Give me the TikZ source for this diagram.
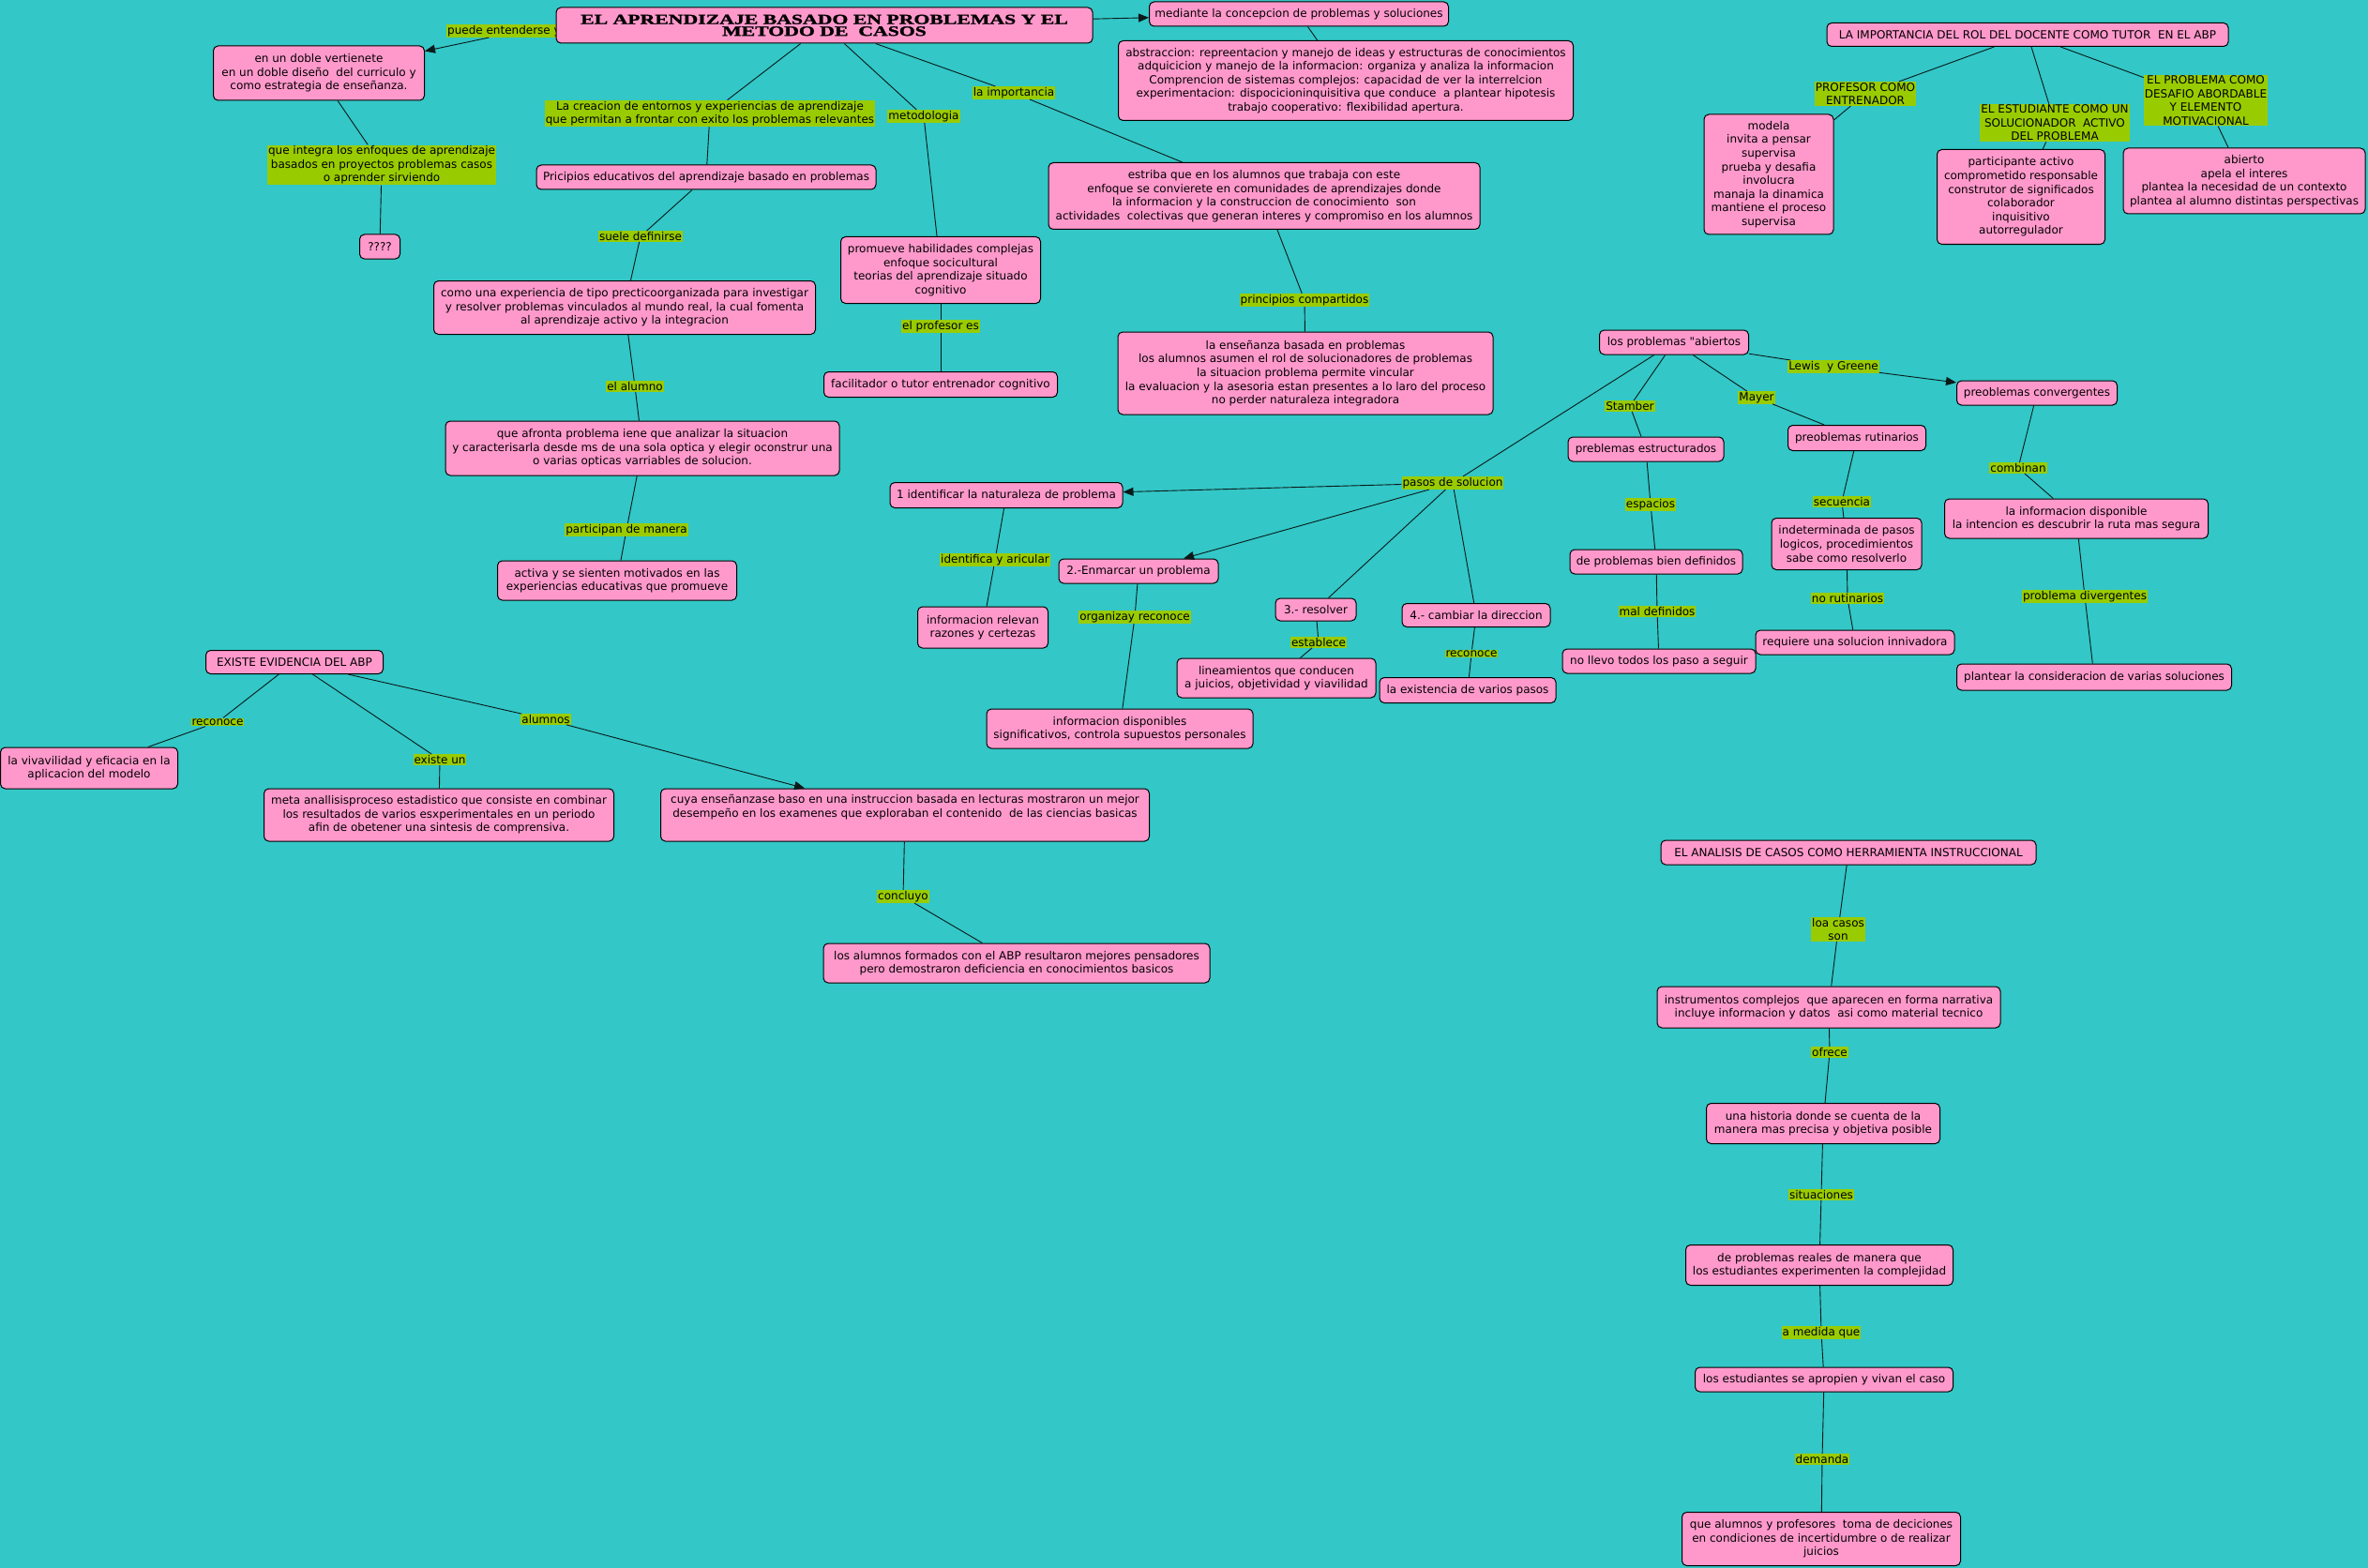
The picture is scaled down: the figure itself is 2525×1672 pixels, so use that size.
\documentclass[tikz,border=0pt]{standalone}
\usepackage{fontspec}
\newfontfamily\cmfont[Ligatures=TeXOff]{DejaVu Sans}
\newfontfamily\ttlfont[FakeStretch=1.45,FakeBold=1.6]{Liberation Serif}
\usetikzlibrary{arrows.meta}
\definecolor{bgc}{RGB}{51,199,199}
\definecolor{pinkc}{RGB}{255,153,204}
\definecolor{greenc}{RGB}{153,204,0}
\definecolor{linec}{RGB}{10,25,25}
\begin{document}
\begin{tikzpicture}[x=1pt,y=-1pt,
  cn/.style={draw=black, fill=pinkc, rounded corners=5pt, line width=1pt, align=center, inner sep=2pt, text=black, font={\cmfont\fontsize{12}{14.6}\selectfont}},
  cbox/.style 2 args={cn, minimum width=#1pt, minimum height=#2pt},
  lb/.style={fill=greenc, align=center, inner sep=1pt, text=black, font={\cmfont\fontsize{12}{14.6}\selectfont}},
  conn/.style={draw=linec, line width=0.9pt},
  arr/.style={conn, -{Triangle[length=11pt,width=9pt]}}]
\fill[bgc] (0,0) rectangle (2525,1672);
\useasboundingbox (0,0) rectangle (2525,1672);

% ---- main map ----
\node[lb, anchor=west] (lpuede) at (476,33) {puede entenderse y};
\node[cbox={572}{38}, font={\ttlfont\bfseries\fontsize{15}{12.5}\selectfont}] (title) at (879,27) {EL APRENDIZAJE BASADO EN PROBLEMAS Y EL\\METODO DE \ CASOS};
\node[cbox={319}{26}] (mediante) at (1385,15) {mediante la concepcion de problemas y soluciones};
\node[cbox={485}{85}] (abstr) at (1435,86) {abstraccion: repreentacion y manejo de ideas y estructuras de conocimientos\\adquicicion y manejo de la informacion: organiza y analiza la informacion\\Comprencion de sistemas complejos: capacidad de ver la interrelcion\\experimentacion: dispocicioninquisitiva que conduce \ a plantear hipotesis\\trabajo cooperativo: flexibilidad apertura.};
\node[cbox={225}{58}] (doble) at (340,78) {en un doble vertienete\\en un doble diseño \ del curriculo y\\como estrategia de enseñanza.};
\node[lb] (lintegra) at (407,176) {que integra los enfoques de aprendizaje\\basados en proyectos problemas casos\\o aprender sirviendo};
\node[cbox={43}{26}] (qqq) at (405,263) {????};
\node[lb] (lcreacion) at (757,121) {La creacion de entornos y experiencias de aprendizaje\\que permitan a frontar con exito los problemas relevantes};
\node[cbox={362}{26}] (pricipios) at (753,189) {Pricipios educativos del aprendizaje basado en problemas};
\node[lb] (lsuele) at (683,252) {suele definirse};
\node[cbox={407}{57}] (como) at (666,328) {como una experiencia de tipo precticoorganizada para investigar\\y resolver problemas vinculados al mundo real, la cual fomenta\\al aprendizaje activo y la integracion};
\node[lb] (lalumno) at (677,412) {el alumno};
\node[cbox={420}{58}] (afronta) at (685,478) {que afronta problema iene que analizar la situacion\\y caracterisarla desde ms de una sola optica y elegir oconstrur una\\o varias opticas varriables de solucion.};
\node[lb] (lparticipan) at (668,565) {participan de manera};
\node[cbox={255}{42}] (activa) at (658,619) {activa y se sienten motivados en las\\experiencias educativas que promueve};
\node[lb] (lmetod) at (985,124) {metodologia};
\node[cbox={213}{71}] (promueve) at (1003,288) {promueve habilidades complejas\\enfoque socicultural\\teorias del aprendizaje situado\\cognitivo};
\node[lb] (lprofesor) at (1003,348) {el profesor es};
\node[cbox={249}{27}] (facilitador) at (1003,410) {facilitador o tutor entrenador cognitivo};
\node[lb] (limport) at (1081,99) {la importancia};
\node[cbox={460}{71}] (estriba) at (1348,209) {estriba que en los alumnos que trabaja con este\\enfoque se convierete en comunidades de aprendizajes donde\\la informacion y la construccion de conocimiento \ son\\actividades \ colectivas que generan interes y compromiso en los alumnos};
\node[lb] (lprincipios) at (1391,320) {principios compartidos};
\node[cbox={400}{88}] (ensenanza) at (1392,398) {la enseñanza basada en problemas\\los alumnos asumen el rol de solucionadores de problemas\\la situacion problema permite vincular\\la evaluacion y la asesoria estan presentes a lo laro del proceso\\no perder naturaleza integradora};

% ---- rol del docente ----
\node[cbox={428}{25}] (rol) at (2162,37) {LA IMPORTANCIA DEL ROL DEL DOCENTE COMO TUTOR \ EN EL ABP};
\node[lb] (lentrenador) at (1989,100) {PROFESOR COMO\\ENTRENADOR};
\node[cbox={138}{128}] (modela) at (1886,186) {modela\\invita a pensar\\supervisa\\prueba y desafia\\involucra\\manaja la dinamica\\mantiene el proceso\\supervisa};
\node[lb] (lestudiante) at (2191,131) {EL ESTUDIANTE COMO UN\\SOLUCIONADOR \ ACTIVO\\DEL PROBLEMA};
\node[cbox={179}{101}] (participante) at (2155,210) {participante activo\\comprometido responsable\\construtor de significados\\colaborador\\inquisitivo\\autorregulador};
\node[lb] (lproblema) at (2352,107) {EL PROBLEMA COMO\\DESAFIO ABORDABLE\\Y ELEMENTO\\MOTIVACIONAL};
\node[cbox={258}{70}] (abierto) at (2393,193) {abierto\\apela el interes\\plantea la necesidad de un contexto\\plantea al alumno distintas perspectivas};

% ---- problemas abiertos ----
\node[cbox={159}{26}] (abiertos) at (1785,365) {los problemas "abiertos};
\node[lb] (lstamber) at (1738,433) {Stamber};
\node[cbox={166}{26}] (estructurados) at (1755,479) {preblemas estructurados};
\node[lb] (lespacios) at (1760,538) {espacios};
\node[cbox={184}{26}] (biendef) at (1766,599) {de problemas bien definidos};
\node[lb] (lmaldef) at (1767,652) {mal definidos};
\node[cbox={206}{26}] (nollevo) at (1769,705) {no llevo todos los paso a seguir};
\node[lb] (lmayer) at (1873,424) {Mayer};
\node[cbox={147}{27}] (rutinarios) at (1980,467) {preoblemas rutinarios};
\node[lb] (lsecuencia) at (1964,535) {secuencia};
\node[cbox={160}{55}] (indeterminada) at (1969,580) {indeterminada de pasos\\logicos, procedimientos\\sabe como resolverlo};
\node[lb] (lnorut) at (1970,638) {no rutinarios};
\node[cbox={212}{26}] (requiere) at (1978,685) {requiere una solucion innivadora};
\node[lb] (llewis) at (1955,391) {Lewis \ y Greene};
\node[cbox={171}{26}] (convergentes) at (2172,419) {preoblemas convergentes};
\node[lb] (lcombinan) at (2152,499) {combinan};
\node[cbox={281}{42}] (infodisp) at (2214,553) {la informacion disponible\\la intencion es descubrir la ruta mas segura};
\node[lb] (ldiverg) at (2223,636) {problema divergentes};
\node[cbox={293}{28}] (plantear) at (2233,722) {plantear la consideracion de varias soluciones};
\node[lb] (lpasos) at (1549,515) {pasos de solucion};
\node[cbox={248}{27}] (ident) at (1073,528) {1 identificar la naturaleza de problema};
\node[lb] (lidentifica) at (1061,597) {identifica y aricular};
\node[cbox={139}{44}] (relevan) at (1048,669) {informacion relevan\\razones y certezas};
\node[cbox={170}{26}] (enmarcar) at (1214,609) {2.-Enmarcar un problema};
\node[lb] (lorganiza) at (1210,658) {organizay reconoce};
\node[cbox={284}{42}] (infodisps) at (1194,777) {informacion disponibles\\significativos, controla supuestos personales};
\node[cbox={86}{24}] (resolver) at (1403,650) {3.- resolver};
\node[lb] (lestablece) at (1406,685) {establece};
\node[cbox={212}{42}] (lineamientos) at (1361,723) {lineamientos que conducen\\a juicios, objetividad y viavilidad};
\node[cbox={158}{25}] (cambiar) at (1574,656) {4.- cambiar la direccion};
\node[lb] (lreconocedos) at (1569,697) {reconoce};
\node[cbox={188}{27}] (existencia) at (1565,736) {la existencia de varios pasos};

% ---- evidencia ----
\node[cbox={189}{25}] (existe) at (314,706) {EXISTE EVIDENCIA DEL ABP};
\node[lb] (lreconoce) at (232,770) {reconoce};
\node[cbox={189}{44}] (vivav) at (95,819) {la vivavilidad y eficacia en la\\aplicacion del modelo};
\node[lb] (lexiste) at (469,810) {existe un};
\node[cbox={373}{56}] (meta) at (468,869) {meta anallisisproceso estadistico que consiste en combinar\\los resultados de varios esxperimentales en un periodo\\afin de obetener una sintesis de comprensiva.};
\node[lb] (lalumnos) at (582,767) {alumnos};
\node[cbox={521}{56}] (cuya) at (965,869) {cuya enseñanzase baso en una instruccion basada en lecturas mostraron un mejor\\desempeño en los examenes que exploraban el contenido \ de las ciencias basicas\\ \strut};
\node[lb] (lconcluyo) at (963,956) {concluyo};
\node[cbox={412}{42}] (formados) at (1084,1027) {los alumnos formados con el ABP resultaron mejores pensadores\\pero demostraron deficiencia en conocimientos basicos};

% ---- analisis de casos ----
\node[cbox={400}{26}] (analisis) at (1971,909) {EL ANALISIS DE CASOS COMO HERRAMIENTA INSTRUCCIONAL};
\node[lb] (lcasos) at (1960,991) {loa casos\\son};
\node[cbox={366}{44}] (instrumentos) at (1950,1074) {instrumentos complejos \ que aparecen en forma narrativa\\incluye informacion y datos \ asi como material tecnico};
\node[lb] (lofrece) at (1951,1122) {ofrece};
\node[cbox={249}{43}] (historia) at (1944,1198) {una historia donde se cuenta de la\\manera mas precisa y objetiva posible};
\node[lb] (lsituaciones) at (1942,1274) {situaciones};
\node[cbox={285}{43}] (reales) at (1940,1349) {de problemas reales de manera que\\los estudiantes experimenten la complejidad};
\node[lb] (lmedida) at (1942,1421) {a medida que};
\node[cbox={275}{26}] (apropien) at (1945,1471) {los estudiantes se apropien y vivan el caso};
\node[lb] (ldemanda) at (1943,1556) {demanda};
\node[cbox={297}{57}] (decisiones) at (1942,1641) {que alumnos y profesores \ toma de deciciones\\en condiciones de incertidumbre o de realizar\\juicios};

% ---- connectors ----
\draw[arr] (title) -- (mediante);
\draw[conn] (mediante) -- (abstr);
\draw[arr] ([xshift=-16pt]lpuede.south) -- ([yshift=-6pt]doble.north east);
\draw[conn] (doble) -- (lintegra);
\draw[conn] (lintegra) -- (qqq);
\draw[conn] (title) -- (lcreacion);
\draw[conn] (lcreacion) -- (pricipios);
\draw[conn] (pricipios) -- (lsuele);
\draw[conn] (lsuele) -- (como);
\draw[conn] (como) -- (lalumno);
\draw[conn] (lalumno) -- (afronta);
\draw[conn] (afronta) -- (lparticipan);
\draw[conn] (lparticipan) -- (activa);
\draw[conn] (title) -- (lmetod);
\draw[conn] (lmetod) -- (promueve);
\draw[conn] (promueve) -- (lprofesor);
\draw[conn] (lprofesor) -- (facilitador);
\draw[conn] (title) -- (limport);
\draw[conn] (limport) -- (estriba);
\draw[conn] (estriba) -- (lprincipios);
\draw[conn] (lprincipios) -- (ensenanza);

\draw[conn] (rol) -- (lentrenador);
\draw[conn] (lentrenador) -- (modela);
\draw[conn] (rol) -- (lestudiante);
\draw[conn] (lestudiante) -- (participante);
\draw[conn] (rol) -- (lproblema);
\draw[conn] (lproblema) -- (abierto);

\draw[conn] (abiertos) -- (lstamber);
\draw[conn] (lstamber) -- (estructurados);
\draw[conn] (estructurados) -- (lespacios);
\draw[conn] (lespacios) -- (biendef);
\draw[conn] (biendef) -- (lmaldef);
\draw[conn] (lmaldef) -- (nollevo);
\draw[conn] (abiertos) -- (lmayer);
\draw[conn] (lmayer) -- (rutinarios);
\draw[conn] (rutinarios) -- (lsecuencia);
\draw[conn] (lsecuencia) -- (indeterminada);
\draw[conn] (indeterminada) -- (lnorut);
\draw[conn] (lnorut) -- (requiere);
\draw[conn] (abiertos) -- (llewis);
\draw[arr] (llewis) -- (convergentes);
\draw[conn] (convergentes) -- (lcombinan);
\draw[conn] (lcombinan) -- (infodisp);
\draw[conn] (infodisp) -- (ldiverg);
\draw[conn] (ldiverg) -- (plantear);
\draw[conn] (abiertos) -- (lpasos);
\draw[arr] (lpasos) -- (ident);
\draw[arr] (lpasos) -- (enmarcar);
\draw[conn] (lpasos) -- (resolver);
\draw[conn] (lpasos) -- (cambiar);
\draw[conn] (ident) -- (lidentifica);
\draw[conn] (lidentifica) -- (relevan);
\draw[conn] (enmarcar) -- (lorganiza);
\draw[conn] (lorganiza) -- (infodisps);
\draw[conn] (resolver) -- (lestablece);
\draw[conn] (lestablece) -- (lineamientos);
\draw[conn] (cambiar) -- (lreconocedos);
\draw[conn] (lreconocedos) -- (existencia);

\draw[conn] (existe) -- (lreconoce);
\draw[conn] (lreconoce) -- (vivav);
\draw[conn] (existe) -- (lexiste);
\draw[conn] (lexiste) -- (meta);
\draw[conn] (existe) -- (lalumnos);
\draw[arr] (lalumnos) -- (cuya);
\draw[conn] (cuya) -- (lconcluyo);
\draw[conn] (lconcluyo) -- (formados);

\draw[conn] (analisis) -- (lcasos);
\draw[conn] (lcasos) -- (instrumentos);
\draw[conn] (instrumentos) -- (lofrece);
\draw[conn] (lofrece) -- (historia);
\draw[conn] (historia) -- (lsituaciones);
\draw[conn] (lsituaciones) -- (reales);
\draw[conn] (reales) -- (lmedida);
\draw[conn] (lmedida) -- (apropien);
\draw[conn] (apropien) -- (ldemanda);
\draw[conn] (ldemanda) -- (decisiones);
\end{tikzpicture}
\end{document}
